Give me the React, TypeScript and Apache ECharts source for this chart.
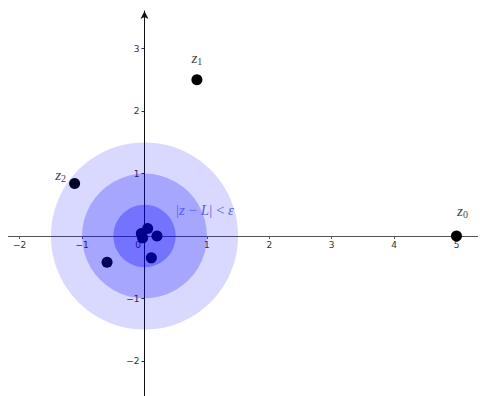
import React, { useEffect, useRef } from 'react';
import * as echarts from 'echarts';

// sequence points z_n (x, y)
const pointX = [5, 0.84, -1.12, -0.6, 0.11, 0.2, 0.05, -0.05, -0.03];
const pointY = [0, 2.5, 0.84, -0.42, -0.35, 0.0, 0.12, 0.04, -0.03];
const pointNames = ['0', '1', '2', '', '', '', '', '', ''];
// limit L and epsilon radii
const limitPoint = [0, 0];
const epsRadii = [1.5, 1.0, 0.5];
const epsLabelAt = [0.97, 0.42];
// axis ranges
const xRange = [-2.1875, 5.473];
const yRange = [-2.56, 3.6];

const discColors = ['rgba(0,0,255,0.15)', 'rgba(0,0,255,0.235)', 'rgba(0,0,255,0.307)'];
const labelOffsets: Record<string, number[]> = { '0': [6, -25], '1': [0, -22], '2': [-14, -9] };

const isInt = (v: number) => Math.abs(v - Math.round(v)) < 1e-6;
const fmt = (v: number) => {
  if (!isInt(v)) return '';
  const r = Math.round(v);
  return r < 0 ? '\u2212' + Math.abs(r) : String(r);
};

const W = 478;
const H = 388;
const GRID_TOP = 3;

export default function App() {
  const ref = useRef<HTMLDivElement>(null);
  useEffect(() => {
    if (!ref.current) return;
    document.documentElement.style.overflow = 'hidden';
    document.body.style.overflow = 'hidden';
    const chart = echarts.init(ref.current, undefined, { renderer: 'svg' });
    const serif = 'Liberation Serif';
    const gw = W;
    const gh = H - GRID_TOP;
    // move each axis onto the other axis' zero
    const yAxisOffset = -((0 - xRange[0]) / (xRange[1] - xRange[0])) * gw;
    const xAxisOffset = -((0 - yRange[0]) / (yRange[1] - yRange[0])) * gh;
    const option: any = {
      animation: false,
      grid: { left: 0, right: 0, top: GRID_TOP, bottom: 0, containLabel: false, outerBoundsMode: 'none' },
      xAxis: {
        type: 'value', min: xRange[0], max: xRange[1], splitNumber: 8, position: 'bottom', offset: xAxisOffset,
        axisLine: { onZero: false, lineStyle: { color: '#555', width: 1 } },
        axisTick: { show: true, length: 3, lineStyle: { color: '#555' } },
        splitLine: { show: false },
        axisLabel: {
          margin: 4, fontSize: 9, fontFamily: 'DejaVu Sans', color: '#333',
          showMinLabel: false, showMaxLabel: false,
          formatter: (v: number) => (isInt(v) && Math.round(v) === 0 ? '{o|0}' : fmt(v)),
          rich: { o: { fontSize: 9, fontFamily: 'DejaVu Sans', color: '#333', padding: [0, 13, 0, 0] } },
        },
      },
      yAxis: {
        type: 'value', min: yRange[0], max: yRange[1], splitNumber: 6, position: 'left', offset: yAxisOffset,
        axisLine: { onZero: false, symbol: ['none', 'arrow'], symbolSize: [6, 8], lineStyle: { color: '#111', width: 1 } },
        axisTick: { show: true, length: 3, lineStyle: { color: '#333' } },
        splitLine: { show: false },
        axisLabel: {
          margin: 5, fontSize: 9, fontFamily: 'DejaVu Sans', color: '#333',
          showMinLabel: false, showMaxLabel: false,
          formatter: (v: number) => (isInt(v) && Math.round(v) === 0 ? '' : fmt(v)),
        },
      },
      series: [
        {
          type: 'scatter', z: 1, symbolSize: 11,
          itemStyle: { color: '#000', opacity: 1 },
          data: pointX.map((x, i) => {
            const n = pointNames[i];
            return {
              value: [x, pointY[i]],
              label: n
                ? {
                    show: true, position: 'inside', offset: labelOffsets[n],
                    formatter: `{i|z}{s|${n}}`,
                    rich: {
                      i: { fontFamily: serif, fontStyle: 'italic', fontSize: 15, color: '#444' },
                      s: { fontFamily: serif, fontSize: 10, color: '#444', padding: [7, 0, 0, 0] },
                    },
                  }
                : { show: false },
            };
          }),
        },
        {
          type: 'custom', z: 2,
          data: epsRadii.map((r) => [limitPoint[0], limitPoint[1], r]),
          renderItem: (params: any, api: any) => {
            const c = api.coord([api.value(0), api.value(1)]);
            const r = api.size([api.value(2), 0])[0];
            return { type: 'circle', shape: { cx: c[0], cy: c[1], r }, style: { fill: discColors[params.dataIndex] } };
          },
        },
        {
          type: 'custom', z: 3,
          data: [epsLabelAt],
          renderItem: (params: any, api: any) => {
            const c = api.coord([api.value(0), api.value(1)]);
            return {
              type: 'text', x: c[0], y: c[1],
              style: {
                text: '{u||}{i|z}{u| \u2212 }{i|L}{u|| < }{i|\u03b5}',
                align: 'center', verticalAlign: 'middle',
                rich: {
                  u: { fontFamily: serif, fontSize: 15, fill: '#5a5af5' },
                  i: { fontFamily: serif, fontStyle: 'italic', fontSize: 15, fill: '#5a5af5' },
                },
              },
            };
          },
        },
      ],
    };
    chart.setOption(option);
    return () => chart.dispose();
  }, []);
  return <div ref={ref} style={{ width: W, height: H }} />;
}
